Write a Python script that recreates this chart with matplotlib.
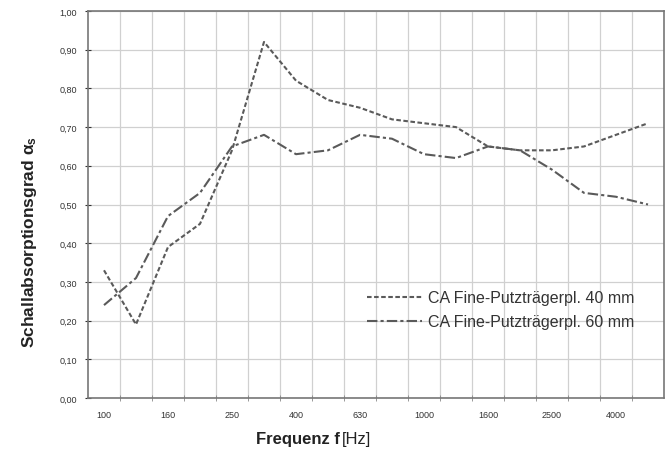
import matplotlib.pyplot as plt
from matplotlib.ticker import FixedLocator, FuncFormatter

plt.rcParams['font.family'] = ['Liberation Sans', 'DejaVu Sans']
plt.rcParams['mathtext.fontset'] = 'custom'
plt.rcParams['mathtext.bf'] = 'Liberation Sans:bold'

# Terzbänder (Hz)
frequenzen = ['100', '125', '160', '200', '250', '315', '400', '500', '630',
              '800', '1000', '1250', '1600', '2000', '2500', '3150', '4000', '5000']

# Schallabsorptionsgrad für beide Plattenstärken
alpha_40mm = [0.33, 0.19, 0.39, 0.45, 0.64, 0.92, 0.82, 0.77, 0.75,
              0.72, 0.71, 0.70, 0.65, 0.64, 0.64, 0.65, 0.68, 0.71]
alpha_60mm = [0.24, 0.31, 0.47, 0.53, 0.65, 0.68, 0.63, 0.64, 0.68,
              0.67, 0.63, 0.62, 0.65, 0.64, 0.59, 0.53, 0.52, 0.50]

label_40 = 'CA Fine-Putzträgerpl. 40 mm'
label_60 = 'CA Fine-Putzträgerpl. 60 mm'

fig = plt.figure(figsize=(6.72, 4.56), dpi=100)
ax = fig.add_axes([88 / 672, 57 / 456, 576 / 672, 387 / 456])

x = list(range(len(frequenzen)))
ax.plot(x, alpha_40mm, color='#5a5a5a', lw=1.5, linestyle=(0, (2.2, 1.2)), label=label_40)
ax.plot(x, alpha_60mm, color='#5a5a5a', lw=1.5, linestyle=(0, (5, 1.5, 1.5, 1.5)), label=label_60)

ax.set_xlim(-0.5, len(frequenzen) - 0.5)
ax.set_ylim(0, 1.0)

# Beschriftung nur jedes zweite Band, Striche an den Bandgrenzen
ax.xaxis.set_major_locator(FixedLocator(x[::2]))
ax.set_xticklabels(frequenzen[::2])
ax.xaxis.set_minor_locator(FixedLocator([i + 0.5 for i in x[:-1]]))
ax.tick_params(axis='x', which='major', length=0, labelsize=6.5, colors='#333333', pad=9)
ax.tick_params(axis='x', which='minor', length=4, color='#888888', direction='inout')

ax.set_yticks([i / 10 for i in range(11)])
ax.yaxis.set_major_formatter(FuncFormatter(lambda v, p: f'{v:.2f}'.replace('.', ',')))
ax.tick_params(axis='y', length=4, labelsize=6.5, colors='#333333', direction='inout', pad=6)

ax.grid(True, axis='y', which='major', color='#d0d0d0', lw=0.9)
ax.grid(True, axis='x', which='minor', color='#d0d0d0', lw=0.9)
ax.set_axisbelow(True)

for side in ['left', 'bottom', 'top', 'right']:
    ax.spines[side].set_color('#777777')
    ax.spines[side].set_linewidth(1.2)

leg = ax.legend(loc='center left', bbox_to_anchor=(0.485, 0.228), frameon=False,
                fontsize=11.5, handlelength=3.4, handletextpad=0.4,
                labelspacing=0.55, borderpad=0, borderaxespad=0)
for t in leg.get_texts():
    t.set_color('#333333')

fig.text(30 / 672, 1 - 242 / 456, r'Schallabsorptionsgrad $\mathbf{\alpha_s}$',
         rotation=90, ha='center', va='center', fontsize=12.5, fontweight='bold', color='#222222')
fig.text(340 / 672, 1 - 440 / 456, 'Frequenz f', ha='right', va='center',
         fontsize=12, fontweight='bold', color='#222222')
fig.text(342 / 672, 1 - 440 / 456, '[Hz]', ha='left', va='center',
         fontsize=12, color='#222222')

fig.savefig('out.png', dpi=100)
